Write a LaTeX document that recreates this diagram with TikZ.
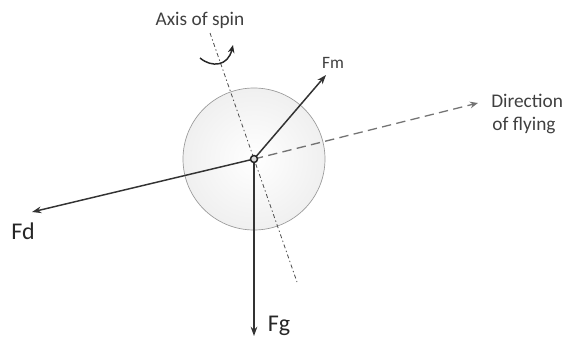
\documentclass[tikz,border=0pt]{standalone}
\usepackage{fontspec}
\setmainfont{Carlito}
\usetikzlibrary{arrows.meta}
\begin{document}
\begin{tikzpicture}[x=0.75pt,y=-0.75pt,
  force/.style={draw=black!80,line width=1.1pt,-{Stealth[length=7pt,width=5pt]}},
  lbl/.style={font=\fontsize{14.5}{16}\selectfont,text=black!75,inner sep=0pt},
  biglbl/.style={font=\fontsize{18}{20}\selectfont,text=black!85,inner sep=0pt}]
\useasboundingbox (0,0) rectangle (562,339);
% ball
\node[circle,minimum size=142*0.75pt,inner sep=0pt,draw=black!40,line width=0.5pt,
  inner color=white,outer color=black!6] (ball) at (254,159) {};
% axis of spin
\coordinate (axt) at (210,33);
\coordinate (axb) at (297,282);
\draw[black!70,line width=0.6pt,dash pattern=on 3pt off 2pt on 1pt off 2pt] (axt) -- (axb);
% direction of flying
\coordinate (dirtip) at (478,103);
\draw[black!55,line width=1pt,dash pattern=on 7pt off 4pt,-{Stealth[length=6pt,width=5pt]}] (ball.center) -- (dirtip);
% forces
\coordinate (fmtip) at (326,75);
\coordinate (fdtip) at (32,212);
\coordinate (fgtip) at (254,336);
\draw[force] (ball.center) -- (fmtip);
\draw[force] (ball.center) -- (fdtip);
\draw[force] (ball.center) -- (fgtip);
% center dot
\node[circle,draw=black!85,line width=1.1pt,fill=black!15,minimum size=7*0.75pt,inner sep=0pt] (c) at (254,159) {};
% spin arrow
\coordinate (s1) at (200,58);
\coordinate (s2) at (233,45);
\draw[black!85,line width=1.1pt,-{Stealth[length=6pt,width=5pt]}] (s1) .. controls (212,68) and (228,66) .. (s2);
% labels
\node[lbl] (axl) at (200,20) {Axis of spin};
\node[lbl,font=\fontsize{13}{15}\selectfont] (fml) at (333,63) {Fm};
\node[lbl,anchor=west] (dl1) at (491,101) {Direction};
\node[lbl] (dl2) at (524,126) {of flying};
\node[biglbl] (fdl) at (23,231) {Fd};
\node[biglbl] (fgl) at (279,326) {Fg};
\end{tikzpicture}
\end{document}
